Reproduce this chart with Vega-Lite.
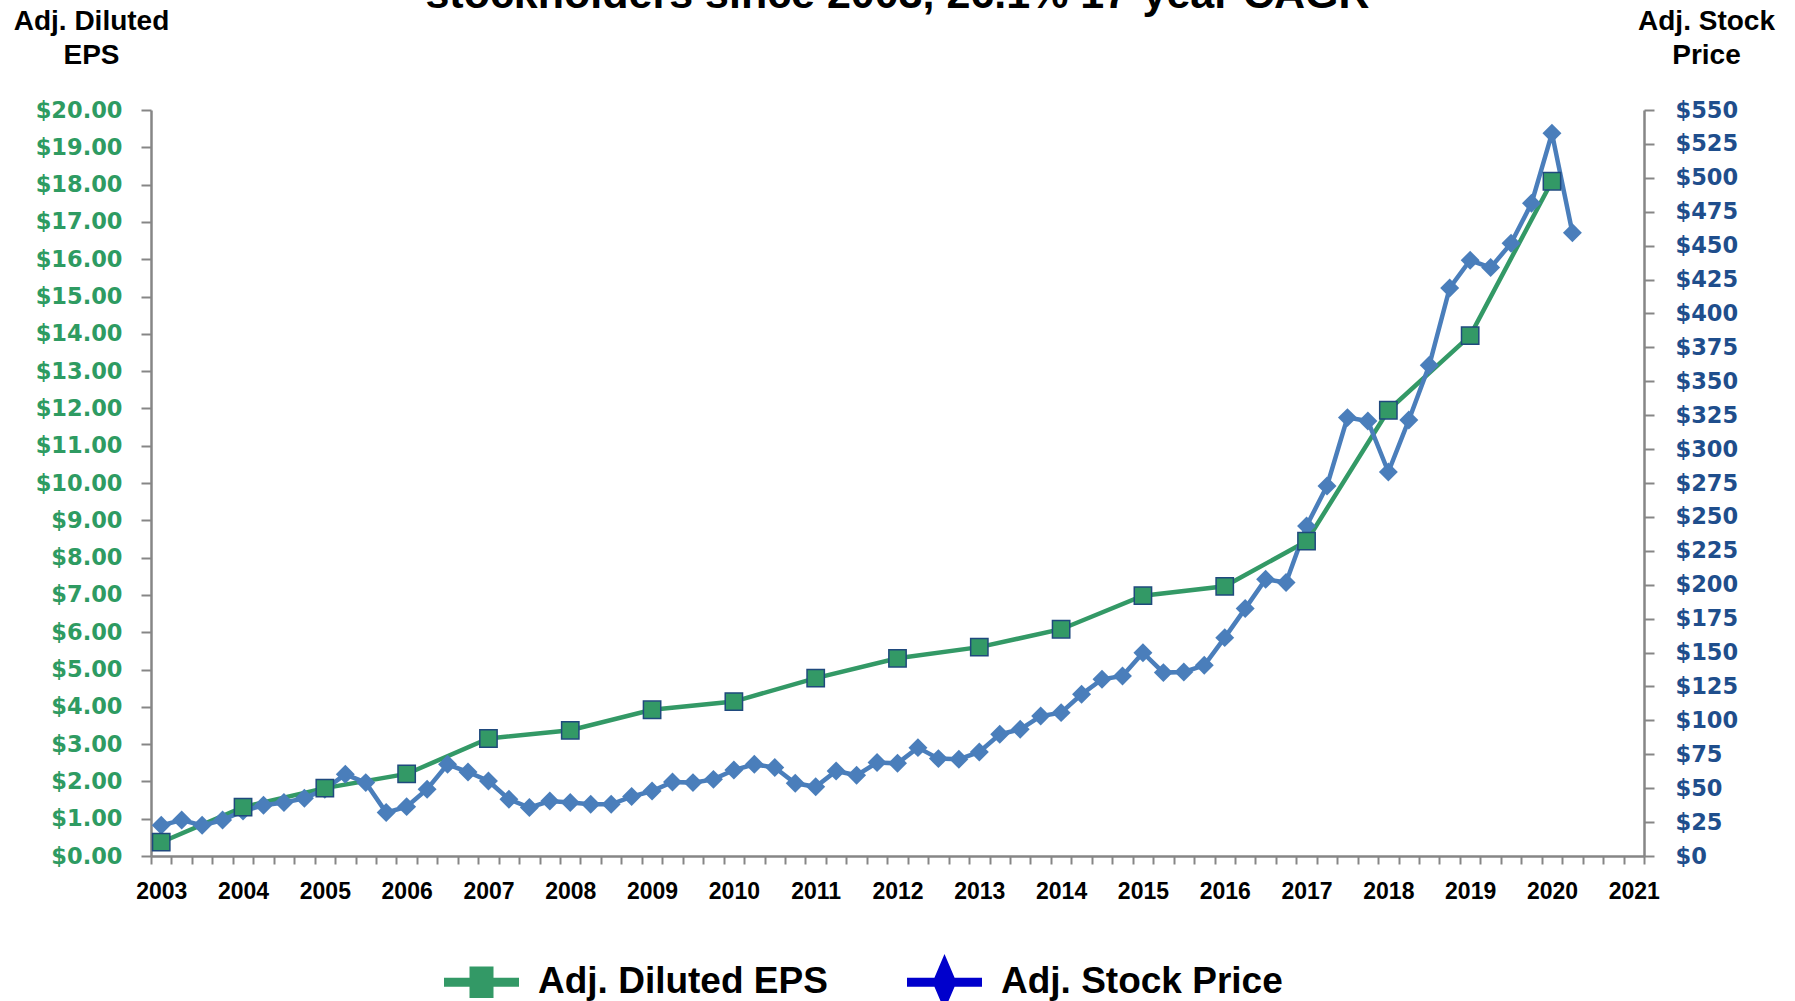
{
  "$schema": "https://vega.github.io/schema/vega-lite/v6.json",
  "autosize": {"type": "none"},
  "width": 1493,
  "height": 746,
  "padding": {"left": 151, "top": 110, "right": 151, "bottom": 145},
  "background": "white",
  "title": {
    "text": "stockholders since 2003, 26.1% 17-year CAGR",
    "font": "Liberation Sans", "fontSize": 43, "fontWeight": "bold", "color": "#000000",
    "anchor": "middle", "frame": "group", "baseline": "alphabetic", "offset": -44
  },
  "datasets": {
    "eps": [
      {"t": 2003, "v": 0.37, "series": "Adj. Diluted EPS"},
      {"t": 2004, "v": 1.31, "series": "Adj. Diluted EPS"},
      {"t": 2005, "v": 1.82, "series": "Adj. Diluted EPS"},
      {"t": 2006, "v": 2.20, "series": "Adj. Diluted EPS"},
      {"t": 2007, "v": 3.15, "series": "Adj. Diluted EPS"},
      {"t": 2008, "v": 3.37, "series": "Adj. Diluted EPS"},
      {"t": 2009, "v": 3.92, "series": "Adj. Diluted EPS"},
      {"t": 2010, "v": 4.14, "series": "Adj. Diluted EPS"},
      {"t": 2011, "v": 4.77, "series": "Adj. Diluted EPS"},
      {"t": 2012, "v": 5.30, "series": "Adj. Diluted EPS"},
      {"t": 2013, "v": 5.60, "series": "Adj. Diluted EPS"},
      {"t": 2014, "v": 6.08, "series": "Adj. Diluted EPS"},
      {"t": 2015, "v": 6.98, "series": "Adj. Diluted EPS"},
      {"t": 2016, "v": 7.23, "series": "Adj. Diluted EPS"},
      {"t": 2017, "v": 8.44, "series": "Adj. Diluted EPS"},
      {"t": 2018, "v": 11.95, "series": "Adj. Diluted EPS"},
      {"t": 2019, "v": 13.95, "series": "Adj. Diluted EPS"},
      {"t": 2020, "v": 18.09, "series": "Adj. Diluted EPS"}
    ],
    "price": [
      {"t": 2003.0, "v": 22.6, "series": "Adj. Stock Price"},
      {"t": 2003.25, "v": 26.5, "series": "Adj. Stock Price"},
      {"t": 2003.5, "v": 22.6, "series": "Adj. Stock Price"},
      {"t": 2003.75, "v": 26.5, "series": "Adj. Stock Price"},
      {"t": 2004.0, "v": 33.2, "series": "Adj. Stock Price"},
      {"t": 2004.25, "v": 37.4, "series": "Adj. Stock Price"},
      {"t": 2004.5, "v": 39.4, "series": "Adj. Stock Price"},
      {"t": 2004.75, "v": 42.5, "series": "Adj. Stock Price"},
      {"t": 2005.0, "v": 49.2, "series": "Adj. Stock Price"},
      {"t": 2005.25, "v": 60.2, "series": "Adj. Stock Price"},
      {"t": 2005.5, "v": 54.1, "series": "Adj. Stock Price"},
      {"t": 2005.75, "v": 32.0, "series": "Adj. Stock Price"},
      {"t": 2006.0, "v": 36.4, "series": "Adj. Stock Price"},
      {"t": 2006.25, "v": 49.2, "series": "Adj. Stock Price"},
      {"t": 2006.5, "v": 67.6, "series": "Adj. Stock Price"},
      {"t": 2006.75, "v": 61.9, "series": "Adj. Stock Price"},
      {"t": 2007.0, "v": 55.3, "series": "Adj. Stock Price"},
      {"t": 2007.25, "v": 41.8, "series": "Adj. Stock Price"},
      {"t": 2007.5, "v": 35.7, "series": "Adj. Stock Price"},
      {"t": 2007.75, "v": 40.5, "series": "Adj. Stock Price"},
      {"t": 2008.0, "v": 39.4, "series": "Adj. Stock Price"},
      {"t": 2008.25, "v": 38.1, "series": "Adj. Stock Price"},
      {"t": 2008.5, "v": 38.1, "series": "Adj. Stock Price"},
      {"t": 2008.75, "v": 43.8, "series": "Adj. Stock Price"},
      {"t": 2009.0, "v": 47.9, "series": "Adj. Stock Price"},
      {"t": 2009.25, "v": 54.6, "series": "Adj. Stock Price"},
      {"t": 2009.5, "v": 54.1, "series": "Adj. Stock Price"},
      {"t": 2009.75, "v": 56.5, "series": "Adj. Stock Price"},
      {"t": 2010.0, "v": 63.4, "series": "Adj. Stock Price"},
      {"t": 2010.25, "v": 67.6, "series": "Adj. Stock Price"},
      {"t": 2010.5, "v": 65.2, "series": "Adj. Stock Price"},
      {"t": 2010.75, "v": 53.6, "series": "Adj. Stock Price"},
      {"t": 2011.0, "v": 51.0, "series": "Adj. Stock Price"},
      {"t": 2011.25, "v": 62.7, "series": "Adj. Stock Price"},
      {"t": 2011.5, "v": 59.5, "series": "Adj. Stock Price"},
      {"t": 2011.75, "v": 68.9, "series": "Adj. Stock Price"},
      {"t": 2012.0, "v": 68.3, "series": "Adj. Stock Price"},
      {"t": 2012.25, "v": 79.9, "series": "Adj. Stock Price"},
      {"t": 2012.5, "v": 71.8, "series": "Adj. Stock Price"},
      {"t": 2012.75, "v": 71.3, "series": "Adj. Stock Price"},
      {"t": 2013.0, "v": 76.7, "series": "Adj. Stock Price"},
      {"t": 2013.25, "v": 89.7, "series": "Adj. Stock Price"},
      {"t": 2013.5, "v": 93.4, "series": "Adj. Stock Price"},
      {"t": 2013.75, "v": 103.2, "series": "Adj. Stock Price"},
      {"t": 2014.0, "v": 105.7, "series": "Adj. Stock Price"},
      {"t": 2014.25, "v": 119.2, "series": "Adj. Stock Price"},
      {"t": 2014.5, "v": 130.3, "series": "Adj. Stock Price"},
      {"t": 2014.75, "v": 132.7, "series": "Adj. Stock Price"},
      {"t": 2015.0, "v": 149.9, "series": "Adj. Stock Price"},
      {"t": 2015.25, "v": 135.2, "series": "Adj. Stock Price"},
      {"t": 2015.5, "v": 135.7, "series": "Adj. Stock Price"},
      {"t": 2015.75, "v": 140.6, "series": "Adj. Stock Price"},
      {"t": 2016.0, "v": 161.0, "series": "Adj. Stock Price"},
      {"t": 2016.25, "v": 182.4, "series": "Adj. Stock Price"},
      {"t": 2016.5, "v": 204.0, "series": "Adj. Stock Price"},
      {"t": 2016.75, "v": 201.6, "series": "Adj. Stock Price"},
      {"t": 2017.0, "v": 243.3, "series": "Adj. Stock Price"},
      {"t": 2017.25, "v": 272.8, "series": "Adj. Stock Price"},
      {"t": 2017.5, "v": 323.2, "series": "Adj. Stock Price"},
      {"t": 2017.75, "v": 320.7, "series": "Adj. Stock Price"},
      {"t": 2018.0, "v": 283.1, "series": "Adj. Stock Price"},
      {"t": 2018.25, "v": 321.4, "series": "Adj. Stock Price"},
      {"t": 2018.5, "v": 361.8, "series": "Adj. Stock Price"},
      {"t": 2018.75, "v": 418.8, "series": "Adj. Stock Price"},
      {"t": 2019.0, "v": 439.2, "series": "Adj. Stock Price"},
      {"t": 2019.25, "v": 433.8, "series": "Adj. Stock Price"},
      {"t": 2019.5, "v": 451.7, "series": "Adj. Stock Price"},
      {"t": 2019.75, "v": 481.2, "series": "Adj. Stock Price"},
      {"t": 2020.0, "v": 532.8, "series": "Adj. Stock Price"},
      {"t": 2020.25, "v": 459.5, "series": "Adj. Stock Price"}
    ]
  },
  "layer": [
    {
      "data": {"name": "eps"},
      "mark": {"type": "line", "strokeWidth": 4.5},
      "encoding": {
        "x": {
          "field": "t", "type": "quantitative",
          "scale": {"domain": [2002.875, 2021.125], "nice": false, "zero": false},
          "axis": {
            "orient": "bottom", "title": null, "grid": false,
            "values": [2003, 2004, 2005, 2006, 2007, 2008, 2009, 2010, 2011, 2012, 2013, 2014, 2015, 2016, 2017, 2018, 2019, 2020, 2021],
            "format": "d", "ticks": false, "tickSize": 0, "domain": false,
            "labelPadding": 24, "labelFont": "Liberation Sans", "labelFontWeight": "bold",
            "labelFontSize": 23, "labelColor": "#000000", "labelOverlap": false, "labelFlush": false
          }
        },
        "y": {
          "field": "v", "type": "quantitative",
          "scale": {"domain": [0, 20], "nice": false, "zero": true},
          "axis": {
            "orient": "left", "grid": false,
            "values": [0, 1, 2, 3, 4, 5, 6, 7, 8, 9, 10, 11, 12, 13, 14, 15, 16, 17, 18, 19, 20],
            "format": "$.2f",
            "labelFont": "DejaVu Sans", "labelFontWeight": "bold", "labelFontSize": 22.5,
            "labelColor": "#2E9B62", "labelPadding": 19, "labelOverlap": false, "labelFlush": false,
            "tickSize": 10, "tickColor": "#868686", "tickWidth": 2,
            "domainColor": "#868686", "domainWidth": 2.5,
            "title": ["Adj. Diluted", "EPS"], "titleAngle": 0, "titleX": -60, "titleY": -81,
            "titleAlign": "center", "titleBaseline": "alphabetic", "titleFont": "Liberation Sans",
            "titleFontSize": 28, "titleFontWeight": "bold", "titleColor": "#000000", "titleLineHeight": 34,
            "encode": {"ticks": {"update": {"x": {"value": -10}, "x2": {"value": 10}}}}
          }
        },
        "color": {
          "field": "series", "type": "nominal",
          "scale": {"domain": ["Adj. Diluted EPS", "Adj. Stock Price"], "range": ["#339966", "#4A7EBB"]},
          "legend": {
            "orient": "none", "legendX": 293, "legendY": 834.5, "direction": "horizontal",
            "title": null, "padding": 0,
            "symbolSize": 5625, "symbolType": "M-1,-0.12H1V0.12H-1Z",
            "labelFont": "Liberation Sans", "labelFontWeight": "bold", "labelFontSize": 37,
            "labelColor": "#000000", "labelOffset": 19, "columnPadding": 79, "labelLimit": 600,
            "encode": {
              "symbols": {
                "update": {
                  "shape": {"signal": "datum.value === 'Adj. Stock Price' ? 'M-1,-0.12H1V0.12H-1Z M0,-0.75L0.32,0L0,0.75L-0.32,0Z' : 'M-1,-0.12H1V0.12H-1Z M-0.32,-0.42H0.32V0.42H-0.32Z M0,-0.75L0,0.75'"},
                  "fill": {"signal": "datum.value === 'Adj. Stock Price' ? '#0000CC' : '#339966'"},
                  "fillOpacity": {"value": 1},
                  "strokeWidth": {"value": 0},
                  "opacity": {"value": 1}
                }
              }
            }
          }
        }
      }
    },
    {
      "data": {"name": "price"},
      "mark": {"type": "line", "strokeWidth": 4.5},
      "encoding": {
        "x": {
          "field": "t", "type": "quantitative",
          "scale": {"domain": [2002.875, 2021.125], "nice": false, "zero": false},
          "axis": {
            "orient": "bottom", "title": null, "grid": false, "labels": false,
            "values": [2002.875,2003.125,2003.375,2003.625,2003.875,2004.125,2004.375,2004.625,2004.875,2005.125,2005.375,2005.625,2005.875,2006.125,2006.375,2006.625,2006.875,2007.125,2007.375,2007.625,2007.875,2008.125,2008.375,2008.625,2008.875,2009.125,2009.375,2009.625,2009.875,2010.125,2010.375,2010.625,2010.875,2011.125,2011.375,2011.625,2011.875,2012.125,2012.375,2012.625,2012.875,2013.125,2013.375,2013.625,2013.875,2014.125,2014.375,2014.625,2014.875,2015.125,2015.375,2015.625,2015.875,2016.125,2016.375,2016.625,2016.875,2017.125,2017.375,2017.625,2017.875,2018.125,2018.375,2018.625,2018.875,2019.125,2019.375,2019.625,2019.875,2020.125,2020.375,2020.625,2020.875,2021.125],
            "ticks": true, "tickSize": 8, "tickColor": "#868686", "tickWidth": 2,
            "domain": true, "domainColor": "#868686", "domainWidth": 2.5,
            "encode": {"ticks": {"update": {"y": {"value": -8}, "y2": {"value": 8}}}}
          }
        },
        "y": {
          "field": "v", "type": "quantitative",
          "scale": {"domain": [0, 550], "nice": false, "zero": true},
          "axis": {
            "orient": "right", "grid": false,
            "values": [0, 25, 50, 75, 100, 125, 150, 175, 200, 225, 250, 275, 300, 325, 350, 375, 400, 425, 450, 475, 500, 525, 550],
            "format": "$,.0f",
            "labelFont": "DejaVu Sans", "labelFontWeight": "bold", "labelFontSize": 22.5,
            "labelColor": "#1F4E8C", "labelPadding": 21, "labelOverlap": false, "labelFlush": false,
            "tickSize": 10, "tickColor": "#868686", "tickWidth": 2,
            "domainColor": "#868686", "domainWidth": 2.5,
            "title": ["Adj. Stock", "Price"], "titleAngle": 0, "titleX": 62, "titleY": -81,
            "titleAlign": "center", "titleBaseline": "alphabetic", "titleFont": "Liberation Sans",
            "titleFontSize": 28, "titleFontWeight": "bold", "titleColor": "#000000", "titleLineHeight": 34,
            "encode": {"ticks": {"update": {"x": {"value": -10}, "x2": {"value": 10}}}}
          }
        },
        "color": {
          "field": "series", "type": "nominal",
          "scale": {"domain": ["Adj. Diluted EPS", "Adj. Stock Price"], "range": ["#339966", "#4A7EBB"]}
        }
      }
    },
    {
      "data": {"name": "price"},
      "mark": {"type": "point", "shape": "diamond", "filled": true, "fill": "#4A7EBB", "size": 360, "opacity": 1},
      "encoding": {
        "x": {"field": "t", "type": "quantitative", "scale": {"domain": [2002.875, 2021.125], "nice": false, "zero": false}, "axis": null},
        "y": {"field": "v", "type": "quantitative", "scale": {"domain": [0, 550], "nice": false, "zero": true}, "axis": null}
      }
    },
    {
      "data": {"name": "eps"},
      "mark": {"type": "point", "shape": "square", "filled": true, "fill": "#339966", "stroke": "#1F497D", "strokeWidth": 1.5, "size": 300, "opacity": 1},
      "encoding": {
        "x": {"field": "t", "type": "quantitative", "scale": {"domain": [2002.875, 2021.125], "nice": false, "zero": false}, "axis": null},
        "y": {"field": "v", "type": "quantitative", "scale": {"domain": [0, 20], "nice": false, "zero": true}, "axis": null}
      }
    }
  ],
  "resolve": {"scale": {"y": "independent"}, "axis": {"x": "independent", "y": "independent"}},
  "config": {"view": {"stroke": null}, "axis": {"grid": false}}
}
